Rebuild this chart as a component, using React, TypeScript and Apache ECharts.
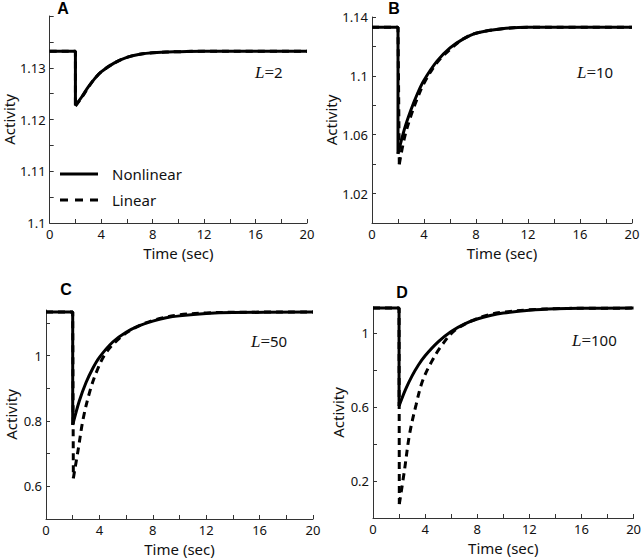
import React, { useEffect, useRef } from "react";
import * as echarts from "echarts";

// ---------- data ----------
const xTicks = [0, 2, 4, 6, 8, 10, 12, 14, 16, 18, 20];
const xLabels = [0, 4, 8, 12, 16, 20];

// Panel A (L=2)
const aTime = [0, 2, 2, 2.5, 3, 3.5, 4, 5, 6, 7, 8, 10, 12, 16, 20];
const aNonlinear = [1.1332, 1.1332, 1.1227, 1.1244, 1.1263, 1.1279, 1.1292, 1.1309, 1.1320, 1.1326, 1.1329, 1.1331, 1.1332, 1.1332, 1.1332];
const aLinTime = [0, 2, 2, 2.5, 3, 3.5, 4, 5, 6, 7, 8, 10, 12, 16, 20];
const aLinear = [1.1332, 1.1332, 1.1226, 1.1243, 1.1262, 1.1279, 1.1292, 1.1309, 1.1320, 1.1326, 1.1329, 1.1331, 1.1332, 1.1332, 1.1332];
const aYTicks = [1.1, 1.105, 1.11, 1.115, 1.12, 1.125, 1.13, 1.135, 1.14];
const aYLabels = [1.1, 1.11, 1.12, 1.13];

// Panel B (L=10)
const bTime = [0, 2, 2, 2.5, 3, 3.5, 4, 5, 6, 7, 8, 10, 12, 16, 20];
const bNonlinear = [1.133, 1.133, 1.047, 1.064, 1.077, 1.088, 1.097, 1.110, 1.119, 1.125, 1.129, 1.132, 1.133, 1.133, 1.133];
const bLinTime = [0, 2, 2.1, 2.5, 3, 3.5, 4, 5, 6, 7, 8, 10, 12, 16, 20];
const bLinear = [1.133, 1.133, 1.040, 1.058, 1.073, 1.085, 1.095, 1.109, 1.118, 1.125, 1.129, 1.132, 1.133, 1.133, 1.133];
const bYTicks = [1.0, 1.02, 1.04, 1.06, 1.08, 1.1, 1.12, 1.14];
const bYLabels = [1.02, 1.06, 1.1, 1.14];

// Panel C (L=50)
const cTime = [0, 2, 2, 2.5, 3, 3.5, 4, 5, 6, 7, 8, 9, 10, 12, 14, 20];
const cNonlinear = [1.134, 1.134, 0.788, 0.862, 0.918, 0.961, 0.995, 1.042, 1.072, 1.092, 1.106, 1.116, 1.122, 1.129, 1.132, 1.134];
const cLinTime = [0, 2, 2.05, 2.4, 2.8, 3.3, 3.8, 4.4, 5.3, 6.5, 8, 10, 12, 14, 20];
const cLinear = [1.134, 1.134, 0.625, 0.71, 0.81, 0.893, 0.952, 1.003, 1.046, 1.082, 1.108, 1.125, 1.131, 1.133, 1.134];
const cYTicks = [0.5, 0.6, 0.7, 0.8, 0.9, 1.0, 1.1];
const cYLabels = [0.6, 0.8, 1];

// Panel D (L=100)
const dTime = [0, 2, 2, 2.5, 3, 3.5, 4, 5, 6, 7, 8, 9, 10, 12, 14, 16, 20];
const dNonlinear = [1.134, 1.134, 0.605, 0.695, 0.768, 0.828, 0.877, 0.952, 1.008, 1.048, 1.075, 1.094, 1.107, 1.122, 1.130, 1.133, 1.134];
const dLinTime = [0, 2, 2.02, 2.4, 2.8, 3.3, 3.8, 4.5, 5.3, 6.3, 7.8, 9, 10, 12, 14, 16, 20];
const dLinear = [1.134, 1.134, 0.075, 0.25, 0.45, 0.61, 0.74, 0.845, 0.935, 1.015, 1.072, 1.100, 1.112, 1.125, 1.131, 1.133, 1.134];
const dYTicks = [0, 0.2, 0.4, 0.6, 0.8, 1.0];
const dYLabels = [0.2, 0.6, 1];

const panelLetters = ["A", "B", "C", "D"];
const lValues = ["2", "10", "50", "100"];
const seriesNames = ["Nonlinear", "Linear"];

const SANS = "'Noto Sans', 'Open Sans', sans-serif";

const zip = (t: number[], v: number[]) => t.map((x, i) => [x, v[i]]);

export default function App() {
  const ref = useRef<HTMLDivElement>(null);
  useEffect(() => {
    if (!ref.current) return;
    const chart = echarts.init(ref.current, null, { renderer: "svg" });

    const grids = [
      { left: 44, top: 16, width: 263, height: 207 },
      { left: 372, top: 17, width: 260, height: 206 },
      { left: 46, top: 310, width: 267, height: 209 },
      { left: 373, top: 307, width: 267, height: 211 },
    ];
    const yRanges = [
      { min: 1.1, max: 1.14, ticks: aYTicks, labels: aYLabels },
      { min: 1.0, max: 1.14, ticks: bYTicks, labels: bYLabels },
      { min: 0.5, max: 1.14, ticks: cYTicks, labels: cYLabels },
      { min: 0, max: 1.14, ticks: dYTicks, labels: dYLabels },
    ];
    const nonlin = [zip(aTime, aNonlinear), zip(bTime, bNonlinear), zip(cTime, cNonlinear), zip(dTime, dNonlinear)];
    const lin = [zip(aLinTime, aLinear), zip(bLinTime, bLinear), zip(cLinTime, cLinear), zip(dLinTime, dLinear)];

    const axisLine = { show: true, onZero: false, lineStyle: { color: "#333", width: 1 } };
    const axisTick = (vals: number[]) => ({ show: true, inside: true, length: 4, customValues: vals, lineStyle: { color: "#333", width: 1 } });
    const nameStyle = { fontFamily: SANS, fontSize: 15, color: "#111" };

    const xAxis = grids.map((_, i) => ({
      type: "value",
      gridIndex: i,
      min: 0,
      max: 20,
      axisLine,
      axisTick: axisTick(xTicks),
      axisLabel: { customValues: xLabels, margin: 4, fontFamily: SANS, fontSize: 13, color: "#111" },
      splitLine: { show: false },
      name: "Time (sec)",
      nameLocation: "middle",
      nameGap: 22,
      nameTextStyle: nameStyle,
    }));
    const yAxis = yRanges.map((r, i) => ({
      type: "value",
      gridIndex: i,
      min: r.min,
      max: r.max,
      axisLine,
      axisTick: axisTick(r.ticks),
      axisLabel: {
        customValues: r.labels,
        margin: 4,
        fontFamily: SANS,
        fontSize: 13,
        color: "#111",
        formatter: (v: number) => String(Math.round(v * 1000) / 1000),
      },
      splitLine: { show: false },
      name: "Activity",
      nameLocation: "middle",
      nameGap: 28,
      nameTextStyle: nameStyle,
    }));

    // each curve = a sharp step (t <= 2) plus a smooth recovery from the dip
    const series: any[] = [];
    const addCurve = (i: number, name: string, data: number[][], dashed: boolean, z: number) => {
      const lineStyle = { color: "#000", width: 3, type: dashed ? [7, 5] : "solid" };
      series.push({
        type: "line", name, xAxisIndex: i, yAxisIndex: i, data: data.slice(0, 3),
        symbol: "none", color: "#000", smooth: false, lineStyle, z,
      });
      series.push({
        type: "line", name, xAxisIndex: i, yAxisIndex: i, data: data.slice(2),
        symbol: "none", color: "#000", smooth: 0.35, lineStyle, z,
      });
    };
    for (let i = 0; i < 4; i++) {
      addCurve(i, seriesNames[1], lin[i], true, 2);
      addCurve(i, seriesNames[0], nonlin[i], false, 3);
    }

    const letterPos = [
      [63, 8],
      [394, 8],
      [66, 289],
      [402, 292],
    ];
    const lPos = [
      [255, 72],
      [577, 72],
      [251, 341],
      [572, 340],
    ];
    const graphic: any[] = [];
    for (let i = 0; i < 4; i++) {
      graphic.push({
        type: "text",
        x: letterPos[i][0],
        y: letterPos[i][1],
        style: {
          text: panelLetters[i],
          fontFamily: "'Liberation Sans', Arial, sans-serif",
          fontWeight: "bold",
          fontSize: 16,
          fill: "#000",
          align: "center",
          verticalAlign: "middle",
        },
      });
      graphic.push({
        type: "text",
        x: lPos[i][0],
        y: lPos[i][1],
        style: {
          text: `{i|L}{e|=}{n|${lValues[i]}}`,
          align: "left",
          verticalAlign: "middle",
          rich: {
            i: { fontFamily: "'Liberation Serif', serif", fontStyle: "italic", fontSize: 17, fill: "#111" },
            e: { fontFamily: "'Liberation Serif', serif", fontSize: 17, fill: "#111" },
            n: { fontFamily: SANS, fontSize: 15, fill: "#111" },
          },
        },
      });
    }
    // legend drawn in panel A
    graphic.push(
      { type: "line", shape: { x1: 60, y1: 174, x2: 98, y2: 174 }, style: { stroke: "#000", lineWidth: 3 } },
      { type: "line", shape: { x1: 60, y1: 200, x2: 98, y2: 200 }, style: { stroke: "#000", lineWidth: 3, lineDash: [8, 7] } },
      { type: "text", x: 112, y: 174, style: { text: seriesNames[0], fontFamily: SANS, fontSize: 15, fill: "#111", verticalAlign: "middle" } },
      { type: "text", x: 112, y: 200, style: { text: seriesNames[1], fontFamily: SANS, fontSize: 15, fill: "#111", verticalAlign: "middle" } }
    );

    chart.setOption({
      animation: false,
      backgroundColor: "#fff",
      grid: grids,
      xAxis,
      yAxis,
      series,
      graphic,
    });
    return () => chart.dispose();
  }, []);
  return <div ref={ref} style={{ position: "absolute", left: 0, top: 0, width: 644, height: 559 }} />;
}
